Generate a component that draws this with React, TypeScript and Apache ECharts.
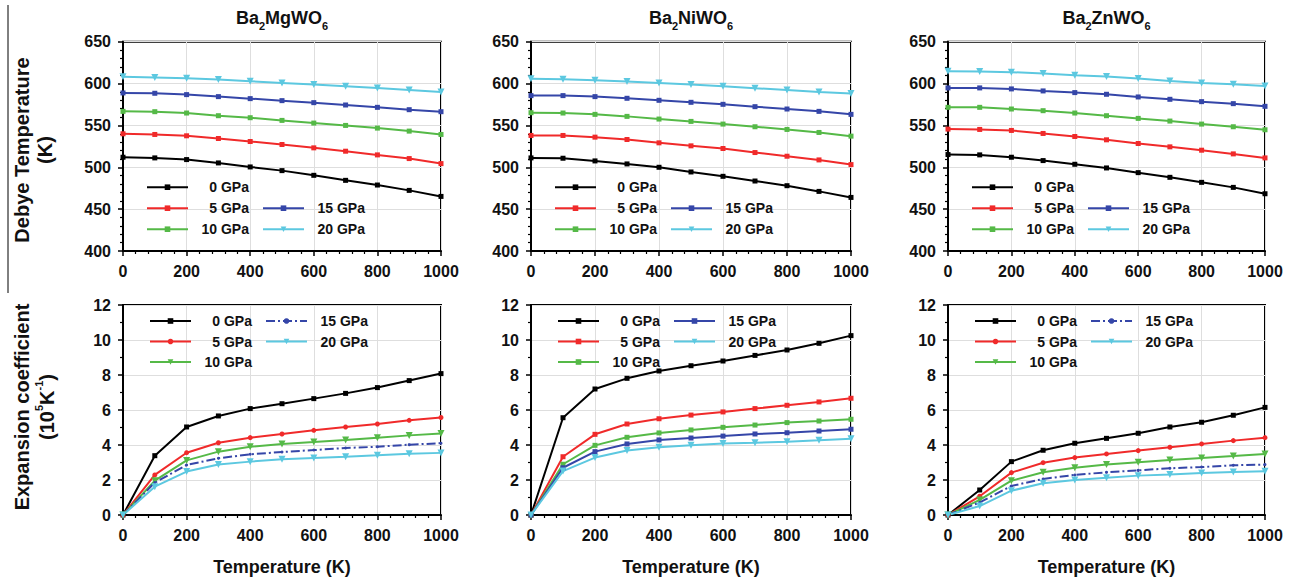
import React, { useEffect, useRef } from 'react';
import * as echarts from 'echarts';

const temperatures = [0, 100, 200, 300, 400, 500, 600, 700, 800, 900, 1000];
const pressureLabels = ['0 GPa', '5 GPa', '10 GPa', '15 GPa', '20 GPa'];
const compoundMetals = ['Mg', 'Ni', 'Zn'];

const debyeTicks = { min: 400, max: 650, step: 50 };
const expansionTicks = { min: 0, max: 12, step: 2 };

// Debye temperature (K)
const mgDebye0 = [512, 511.2, 509.2, 505.2, 500.4, 496, 490.4, 484.4, 478.8, 472.4, 465.2];
const mgDebye5 = [540, 539.2, 537.6, 534.4, 530.8, 527.2, 523.2, 519.2, 514.8, 510.4, 504.4];
const mgDebye10 = [566.8, 566.4, 564.8, 561.6, 559.2, 556, 552.8, 550, 546.8, 543.2, 539.2];
const mgDebye15 = [588.8, 588.4, 586.8, 584.4, 582, 579.6, 577.2, 574.4, 571.6, 568.8, 566.4];
const mgDebye20 = [608, 607.2, 606.4, 604.8, 602.8, 600.8, 598.8, 596.8, 594.8, 592.4, 590];

const niDebye0 = [511.2, 510.8, 507.6, 504, 500, 494.4, 489.2, 483.6, 478, 471.2, 464];
const niDebye5 = [538, 538, 536, 533.2, 529.2, 525.6, 522.4, 517.6, 513.2, 508.8, 503.2];
const niDebye10 = [565.2, 564.8, 563.2, 560.8, 557.6, 554.8, 551.6, 548.4, 545.2, 541.6, 537.2];
const niDebye15 = [585.6, 585.6, 584.4, 582.4, 580, 577.6, 575.2, 572.4, 569.6, 566.8, 563.2];
const niDebye20 = [605.6, 605.2, 604, 602.4, 600.8, 598.8, 596.8, 594.4, 592.4, 590, 588];

const znDebye0 = [515.2, 514.8, 512, 508, 503.6, 499.2, 493.6, 488, 482, 476, 468.4];
const znDebye5 = [545.6, 545.2, 544, 540.4, 536.8, 532.8, 528.4, 524.4, 520.4, 516, 511.2];
const znDebye10 = [571.6, 571.6, 569.6, 567.6, 564.8, 561.6, 558.4, 555.2, 551.6, 548.4, 544.8];
const znDebye15 = [594.8, 594.8, 593.6, 591.2, 589.2, 587.2, 584, 581.2, 578.4, 576, 572.8];
const znDebye20 = [614.8, 614.4, 613.6, 612, 610, 608.4, 606, 603.2, 600.8, 599.2, 597.2];

// Expansion coefficient (10^5 K^-1)
const mgExp0 = [0, 3.39, 5.03, 5.66, 6.08, 6.36, 6.65, 6.95, 7.28, 7.68, 8.08];
const mgExp5 = [0, 2.29, 3.56, 4.13, 4.42, 4.63, 4.84, 5.03, 5.2, 5.41, 5.57];
const mgExp10 = [0, 1.96, 3.12, 3.62, 3.9, 4.06, 4.17, 4.29, 4.42, 4.55, 4.66];
const mgExp15 = [0, 1.85, 2.86, 3.24, 3.47, 3.6, 3.71, 3.83, 3.9, 4.02, 4.1];
const mgExp20 = [0, 1.62, 2.48, 2.88, 3.05, 3.18, 3.26, 3.33, 3.41, 3.5, 3.55];

const niExp0 = [0, 5.56, 7.2, 7.81, 8.23, 8.53, 8.8, 9.12, 9.43, 9.81, 10.25];
const niExp5 = [0, 3.33, 4.61, 5.2, 5.5, 5.71, 5.89, 6.08, 6.27, 6.46, 6.67];
const niExp10 = [0, 2.9, 3.98, 4.44, 4.69, 4.86, 5.01, 5.14, 5.28, 5.37, 5.47];
const niExp15 = [0, 2.7, 3.62, 4.06, 4.29, 4.4, 4.51, 4.63, 4.7, 4.8, 4.9];
const niExp20 = [0, 2.51, 3.28, 3.68, 3.87, 3.98, 4.08, 4.13, 4.19, 4.27, 4.36];

const znExp0 = [0, 1.43, 3.05, 3.7, 4.1, 4.38, 4.67, 5.03, 5.3, 5.7, 6.15];
const znExp5 = [0, 1.07, 2.42, 2.99, 3.28, 3.49, 3.68, 3.87, 4.06, 4.25, 4.42];
const znExp10 = [0, 0.86, 1.96, 2.44, 2.7, 2.88, 3.01, 3.14, 3.26, 3.37, 3.49];
const znExp15 = [0, 0.72, 1.66, 2.06, 2.29, 2.44, 2.55, 2.67, 2.74, 2.84, 2.88];
const znExp20 = [0, 0.51, 1.39, 1.81, 2.0, 2.13, 2.25, 2.32, 2.4, 2.46, 2.5];

const panelSeries = [
  [mgDebye0, mgDebye5, mgDebye10, mgDebye15, mgDebye20],
  [niDebye0, niDebye5, niDebye10, niDebye15, niDebye20],
  [znDebye0, znDebye5, znDebye10, znDebye15, znDebye20],
  [mgExp0, mgExp5, mgExp10, mgExp15, mgExp20],
  [niExp0, niExp5, niExp10, niExp15, niExp20],
  [znExp0, znExp5, znExp10, znExp15, znExp20],
];

const FONT = '"Liberation Sans", Arial, Helvetica, sans-serif';
const colors = ['#000000', '#f02a2a', '#55b947', '#3546a8', '#5cc8e0'];
const stdSymbols = ['rect', 'rect', 'rect', 'rect', 'triangle'];
const stdRotate = [0, 0, 0, 0, 180];
const altSymbols = ['rect', 'circle', 'triangle', 'circle', 'triangle'];
const altRotate = [0, 0, 180, 0, 180];
const altSizes = [5, 5, 7, 3, 7];
const stdSizes = [5, 5, 5, 5, 7];

const columns = [
  { left: 123, width: 318 },
  { left: 531, width: 320 },
  { left: 948, width: 317 },
];
const rows = [
  { top: 41.7, height: 209.3 },
  { top: 305, height: 210 },
];

function buildOption() {
  const grid: any[] = [];
  const xAxis: any[] = [];
  const yAxis: any[] = [];
  const series: any[] = [];
  const legend: any[] = [];
  const title: any[] = [];

  for (let r = 0; r < 2; r++) {
    for (let c = 0; c < 3; c++) {
      const i = r * 3 + c;
      const col = columns[c];
      const row = rows[r];
      grid.push({
        left: col.left,
        top: row.top,
        width: col.width,
        height: row.height,
        show: true,
        borderColor: '#000',
        borderWidth: 2,
        backgroundColor: 'transparent',
      });
      xAxis.push({
        gridIndex: i,
        type: 'value',
        min: 0,
        max: 1000,
        interval: 200,
        name: r === 1 ? 'Temperature (K)' : '',
        nameLocation: 'middle',
        nameGap: 43,
        nameTextStyle: { fontSize: 18, fontWeight: 'bold', color: '#111', fontFamily: FONT },
        axisLine: { show: true, onZero: false, lineStyle: { color: '#000', width: 2 } },
        axisTick: { show: true, length: 5, lineStyle: { color: '#000', width: 1.5 } },
        minorTick: { show: true, splitNumber: 5, length: 3, lineStyle: { color: '#000', width: 1.2 } },
        splitLine: { show: true, lineStyle: { color: '#dedede', width: 1 } },
        axisLabel: {
          fontSize: 16, fontWeight: 'bold', color: '#111', margin: 12, fontFamily: FONT,
          formatter: (v: number) => String(v),
        },
      });
      const ticks = r === 0 ? debyeTicks : expansionTicks;
      yAxis.push({
        gridIndex: i,
        type: 'value',
        min: ticks.min,
        max: ticks.max,
        interval: ticks.step,
        axisLine: { show: true, onZero: false, lineStyle: { color: '#000', width: 2 } },
        axisTick: { show: true, length: 5, lineStyle: { color: '#000', width: 1.5 } },
        minorTick: { show: true, splitNumber: r === 0 ? 5 : 2, length: 3, lineStyle: { color: '#000', width: 1.2 } },
        splitLine: { show: true, lineStyle: { color: '#dedede', width: 1 } },
        axisLabel: {
          fontSize: 16, fontWeight: 'bold', color: '#111', margin: 12, fontFamily: FONT,
          formatter: (v: number) => String(v),
        },
      });

      const alt = r === 1 && c !== 1;
      const values = panelSeries[i];
      values.forEach((vals, k) => {
        series.push({
          type: 'line',
          name: `${pressureLabels[k]}@${i}`,
          xAxisIndex: i,
          yAxisIndex: i,
          data: temperatures.map((t, j) => [t, vals[j]]),
          symbol: alt ? altSymbols[k] : stdSymbols[k],
          symbolRotate: alt ? altRotate[k] : stdRotate[k],
          symbolSize: alt ? altSizes[k] : stdSizes[k],
          showSymbol: true,
          lineStyle: {
            color: colors[k],
            width: 2,
            type: alt && k === 3 ? [9, 3, 2, 3] : 'solid',
          },
          itemStyle: { color: colors[k] },
          emphasis: { disabled: true },
          z: 3,
        });
      });

      const legendLeft = col.left + (r === 0 ? 23 : 26);
      const row1 = r === 0 ? row.top + 145.5 : row.top + 16;
      const gap = r === 0 ? 7 : 6.5;
      const lh = 14;
      const common = {
        orient: 'vertical',
        itemWidth: 41,
        itemHeight: 7,
        itemGap: gap,
        padding: 0,
        selectedMode: false,
        formatter: (name: string) => `{a|${name.split('@')[0]}}`,
        textStyle: {
          color: '#111',
          fontFamily: FONT,
          rich: {
            a: { width: 56, align: 'right', fontSize: 14, fontWeight: 'bold', lineHeight: lh, color: '#111', fontFamily: FONT },
          },
        },
      };
      legend.push({
        ...common,
        left: legendLeft,
        top: row1 - lh / 2,
        data: [0, 1, 2].map((k) => `${pressureLabels[k]}@${i}`),
      });
      const col2Top = r === 0 ? row1 + lh + gap : row1;
      legend.push({
        ...common,
        left: legendLeft + 116,
        top: col2Top - lh / 2,
        data: [3, 4].map((k) => `${pressureLabels[k]}@${i}`),
      });

      if (r === 0) {
        title.push({
          text: `{a|Ba}{s|2}{a|${compoundMetals[c]}WO}{s|6}`,
          left: col.left + col.width / 2,
          textAlign: 'center',
          top: 9,
          padding: 0,
          textStyle: {
            rich: {
              a: { fontSize: 18, fontWeight: 'bold', color: '#111', fontFamily: FONT, lineHeight: 22, verticalAlign: 'top' },
              s: { fontSize: 11, fontWeight: 'bold', color: '#111', fontFamily: FONT, lineHeight: 11, verticalAlign: 'bottom' },
            },
          },
        });
      }
    }
  }

  const yName = { fontSize: 20, fontWeight: 'bold', fill: '#111', fontFamily: FONT, align: 'center', verticalAlign: 'middle' };
  const graphic: any[] = [
    { type: 'line', shape: { x1: 8, y1: 5, x2: 8, y2: 293 }, style: { stroke: '#000', lineWidth: 1 } },
    { type: 'text', x: 22, y: 150, rotation: Math.PI / 2, style: { ...yName, text: 'Debye Temperature' } },
    { type: 'text', x: 45, y: 150, rotation: Math.PI / 2, style: { ...yName, text: '(K)' } },
    { type: 'text', x: 22, y: 407, rotation: Math.PI / 2, style: { ...yName, text: 'Expansion coefficient' } },
    {
      type: 'text', x: 45, y: 407, rotation: Math.PI / 2,
      style: {
        text: '{n|(10}{p|5}{n|K}{p|-1}{n|)}',
        align: 'center',
        verticalAlign: 'middle',
        fill: '#111',
        rich: {
          n: { fontSize: 20, fontWeight: 'bold', fontFamily: FONT, fill: '#111', lineHeight: 24, verticalAlign: 'bottom' },
          p: { fontSize: 11, fontWeight: 'bold', fontFamily: FONT, fill: '#111', lineHeight: 24, verticalAlign: 'top' },
        },
      },
    },
  ];

  return {
    animation: false,
    backgroundColor: '#ffffff',
    title,
    grid,
    xAxis,
    yAxis,
    series,
    legend,
    graphic,
  };
}

export default function App() {
  const ref = useRef<HTMLDivElement>(null);
  useEffect(() => {
    document.body.style.margin = '0';
    if (!ref.current) return;
    const chart = echarts.init(ref.current, undefined, { renderer: 'svg' });
    chart.setOption(buildOption() as any);
    return () => chart.dispose();
  }, []);
  return (
    <div
      ref={ref}
      style={{ position: 'absolute', left: 0, top: 0, width: 1302, height: 586 }}
    />
  );
}
